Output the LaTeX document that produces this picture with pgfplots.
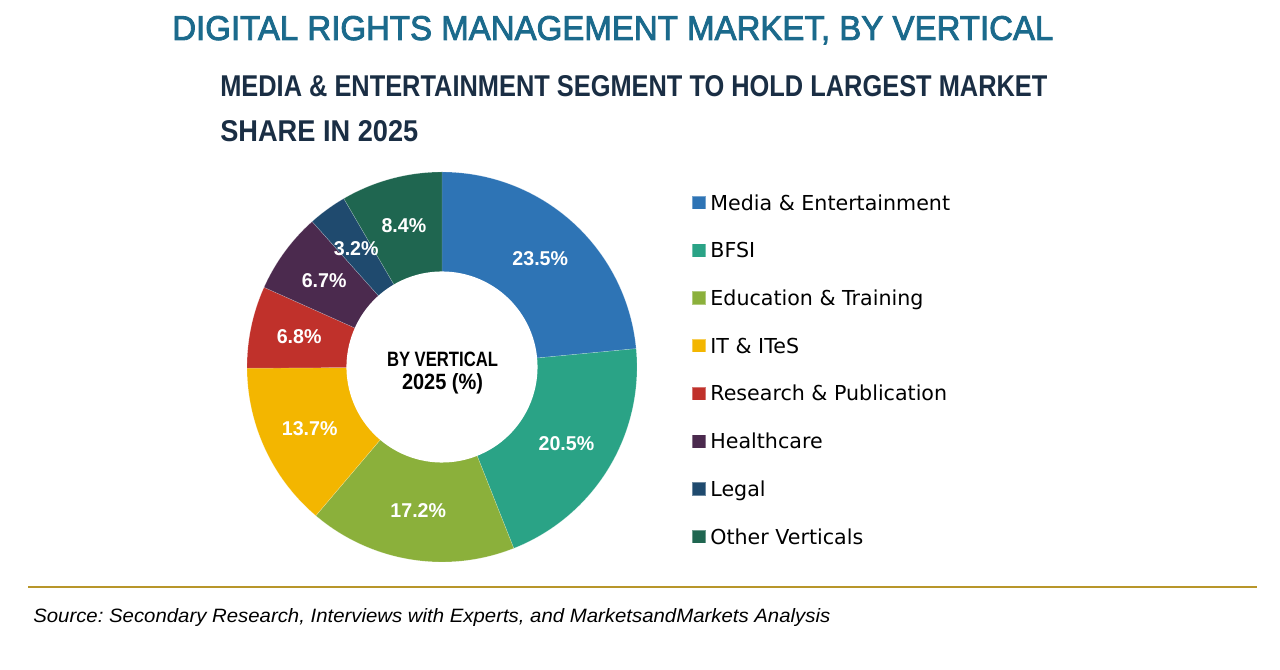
\documentclass[border=0pt]{standalone}
\usepackage{fontspec}
\setmainfont{Liberation Sans}
\newfontfamily\legfont{DejaVu Sans}
\newfontfamily\titlefont[FakeBold=2.5]{Liberation Sans}
\usepackage{graphicx}
\usepackage{pgfplots}
\pgfplotsset{compat=1.18}

\definecolor{cTitle}{HTML}{1B6A8C}
\definecolor{cSub}{HTML}{1A2E44}
\definecolor{cGold}{HTML}{B8962A}
\definecolor{cMedia}{HTML}{2E74B5}
\definecolor{cBFSI}{HTML}{2AA386}
\definecolor{cEdu}{HTML}{8BB03B}
\definecolor{cIT}{HTML}{F3B600}
\definecolor{cRes}{HTML}{C0312B}
\definecolor{cHealth}{HTML}{4B2A4E}
\definecolor{cLegal}{HTML}{1F4A6E}
\definecolor{cOther}{HTML}{1F6650}

% 1 px of the reference = 0.75pt
\newdimen\pxu \pxu=0.75pt
\newcommand\fit[3]{\resizebox{#1\pxu}{#2\pxu}{#3}}

% one wedge: start %, end % (cumulative), colour, legend text
\newcommand\slice[4]{%
  \pgfmathsetmacro\sa{90-3.6*#2}%
  \pgfmathsetmacro\sb{90-3.6*#1}%
  \edef\tmp{\noexpand\addplot[fill=#3, draw=white, draw opacity=0.35, line width=0.3pt,
    domain=\sa:\sb, samples=90] ({cos(x)},{sin(x)}) -- (0,0) -- cycle;}%
  \tmp
  \addlegendentry{#4}}

\begin{document}
\frenchspacing
\begin{tikzpicture}[x=0.75pt,y=0.75pt]
\path[use as bounding box] (0,0) rectangle (1280,670);

\node[anchor=base west, inner sep=0, text=cTitle] at (172,630)
  {\fit{881}{24}{\titlefont DIGITAL RIGHTS MANAGEMENT MARKET, BY VERTICAL}};
\node[anchor=base west, inner sep=0, text=cSub] at (220,573)
  {\fit{827}{21}{\bfseries MEDIA \& ENTERTAINMENT SEGMENT TO HOLD LARGEST MARKET}};
\node[anchor=base west, inner sep=0, text=cSub] at (220,528)
  {\fit{198}{21}{\bfseries SHARE IN 2025}};

\begin{axis}[at={(331.5pt,227.25pt)}, anchor=origin,
  width=292.5pt, height=292.5pt, scale only axis,
  xmin=-1, xmax=1, ymin=-1, ymax=1, axis lines=none, clip=false,
  legend cell align=left,
  legend style={at={(1.141,0.941)}, anchor=north west, draw=none, fill=none,
    inner sep=0pt, outer sep=0pt, row sep=24.55pt, column sep=3.5pt,
    font=\legfont\fontsize{15.45pt}{18pt}\selectfont,
    nodes={inner sep=0pt, text height=11.25pt, text depth=0pt}},
  legend image code/.code={\fill[#1] (0pt,-5pt) rectangle (10pt,5pt);}]
\slice{0}{23.5}{cMedia}{Media \& Entertainment}
\slice{23.5}{44.0}{cBFSI}{BFSI}
\slice{44.0}{61.2}{cEdu}{Education \& Training}
\slice{61.2}{74.9}{cIT}{IT \& ITeS}
\slice{74.9}{81.7}{cRes}{Research \& Publication}
\slice{81.7}{88.4}{cHealth}{Healthcare}
\slice{88.4}{91.6}{cLegal}{Legal}
\slice{91.6}{100}{cOther}{Other Verticals}
\addplot[fill=white, draw=none, domain=0:360, samples=120, forget plot]
  ({0.49*cos(x)},{0.49*sin(x)}) -- cycle;
\end{axis}

\foreach \s/\e/\t in {0/23.5/23.5, 23.5/44.0/20.5, 44.0/61.2/17.2, 61.2/74.9/13.7,
  74.9/81.7/6.8, 81.7/88.4/6.7, 88.4/91.6/3.2, 91.6/100/8.4}{
  \pgfmathsetmacro\m{90-1.8*(\s+\e)}
  \node[text=white, inner sep=0, font=\fontsize{15pt}{17pt}\selectfont\bfseries]
    at ({442+146*cos(\m)},{303+146*sin(\m)}) {\scalebox{0.98}[1]{\t\%}};
}

\node[anchor=base, inner sep=0] at (442.5,303) {\fit{111}{14.5}{\bfseries BY VERTICAL}};
\node[anchor=base, inner sep=0] at (442.5,280) {\fit{81}{16}{\bfseries 2025 (\%)}};

\draw[cGold, line width=1.5pt] (28,83) -- (1257,83);
\node[anchor=base west, inner sep=0] at (33,47)
  {\fit{797}{14}{\itshape Source: Secondary Research, Interviews with Experts, and MarketsandMarkets Analysis}};
\end{tikzpicture}
\end{document}
